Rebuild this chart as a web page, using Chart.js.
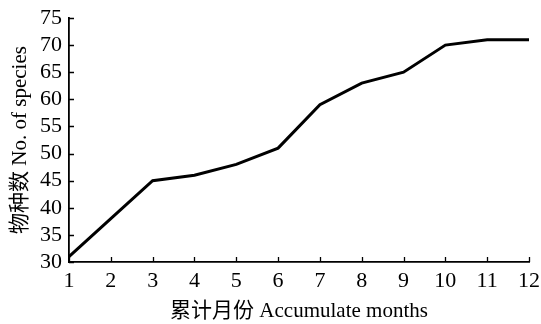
<!DOCTYPE html>
<html>
<head>
<meta charset="utf-8">
<script src="https://cdn.jsdelivr.net/npm/chart.js@4/dist/chart.umd.min.js"></script>
<style>
  html, body { margin: 0; padding: 0; background: #fff; }
  #wrap { width: 541px; height: 324px; position: relative; }
</style>
</head>
<body>
<div id="wrap"><canvas id="speciesChart"></canvas></div>
<script>
// cumulative species count by month
const months = ['1', '2', '3', '4', '5', '6', '7', '8', '9', '10', '11', '12'];
const speciesCount = [31, 38, 45, 46, 48, 51, 59, 63, 65, 70, 71, 71];
const yTicks = [30, 35, 40, 45, 50, 55, 60, 65, 70, 75];

const serif = '"Liberation Serif", "Times New Roman", "Noto Sans CJK SC", serif';

// short tick marks pointing into the plot area
const inwardTicks = {
  id: 'inwardTicks',
  afterDraw(chart) {
    const { ctx, chartArea, scales } = chart;
    const len = 5;
    ctx.save();
    ctx.strokeStyle = '#000';
    ctx.lineWidth = 1.3;
    ctx.beginPath();
    scales.y.ticks.forEach((t) => {
      const py = Math.round(scales.y.getPixelForValue(t.value)) + 0.5;
      ctx.moveTo(chartArea.left, py);
      ctx.lineTo(chartArea.left + len, py);
    });
    months.forEach((m, i) => {
      const px = Math.round(scales.x.getPixelForValue(i)) + 0.5;
      ctx.moveTo(px, chartArea.bottom);
      ctx.lineTo(px, chartArea.bottom - len);
    });
    ctx.stroke();
    ctx.restore();
  }
};

const ctx = document.getElementById('speciesChart').getContext('2d');
new Chart(ctx, {
  type: 'line',
  data: {
    labels: months,
    datasets: [
      {
        label: '物种数',
        data: speciesCount,
        borderColor: '#000',
        borderWidth: 3,
        pointRadius: 0,
        fill: false,
        tension: 0,
        clip: false,
      },
    ],
  },
  options: {
    responsive: true,
    maintainAspectRatio: false,
    animation: false,
    layout: { padding: { top: 18, right: 12, left: 0, bottom: 0 } },
    plugins: {
      legend: { display: false },
      tooltip: { enabled: false },
    },
    scales: {
      x: {
        offset: false,
        grid: { display: false, drawTicks: false },
        border: { display: true, color: '#000', width: 1.8 },
        ticks: {
          color: '#000',
          font: { family: serif, size: 22 },
          padding: 6,
          maxRotation: 0,
          autoSkip: false,
        },
        title: {
          display: true,
          text: '累计月份 Accumulate months',
          color: '#000',
          font: { family: serif, size: 21 },
          padding: { top: 0, bottom: 0 },
        },
        afterFit(scale) {
          scale.height = 62;
          // let the end labels overhang instead of shrinking the plot
          scale.paddingLeft = 0;
          scale.paddingRight = 0;
        },
      },
      y: {
        min: 30,
        max: 75,
        afterBuildTicks(scale) {
          scale.ticks = yTicks.map((v) => ({ value: v }));
        },
        grid: { display: false, drawTicks: false },
        border: { display: true, color: '#000', width: 1.8 },
        ticks: {
          color: '#000',
          font: { family: serif, size: 22 },
          padding: 7,
          autoSkip: false,
        },
        title: {
          display: true,
          text: '物种数 No. of species',
          color: '#000',
          font: { family: serif, size: 21 },
          padding: { top: 8, bottom: 0 },
        },
        afterFit(scale) {
          scale.width = 69;
          scale.paddingTop = 0;
          scale.paddingBottom = 0;
        },
      },
    },
  },
  plugins: [inwardTicks],
});
</script>
</body>
</html>
